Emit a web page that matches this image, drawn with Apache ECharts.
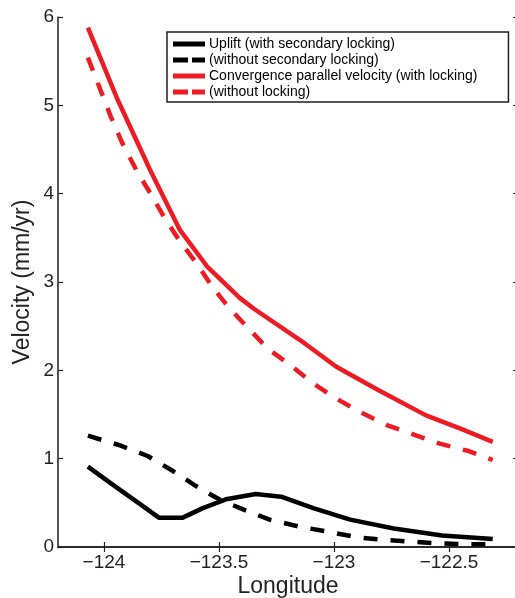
<!DOCTYPE html>
<html>
<head>
<meta charset="utf-8">
<script src="https://cdn.jsdelivr.net/npm/echarts@6/dist/echarts.min.js"></script>
<style>
html,body{margin:0;padding:0;background:#fff;}
#c{width:515px;height:598px;}
</style>
</head>
<body>
<div id="c"></div>
<script>
// Uplift with secondary locking (black solid)
const upliftLon = [-124.07, -123.97, -123.84, -123.76, -123.66, -123.57, -123.47, -123.34, -123.23, -123.09, -122.93, -122.74, -122.53, -122.31];
const upliftVel = [0.91, 0.72, 0.48, 0.33, 0.33, 0.44, 0.54, 0.60, 0.57, 0.44, 0.31, 0.21, 0.13, 0.09];
// Uplift without secondary locking (black dashed)
const upliftNoLon = [-124.07, -123.93, -123.81, -123.70, -123.60, -123.50, -123.39, -123.28, -123.15, -123.02, -122.90, -122.78, -122.66, -122.54, -122.42, -122.31];
const upliftNoVel = [1.26, 1.15, 1.03, 0.86, 0.69, 0.54, 0.42, 0.31, 0.23, 0.17, 0.11, 0.08, 0.06, 0.04, 0.03, 0.03];
// Convergence parallel velocity with locking (red solid)
const convLon = [-124.07, -123.94, -123.80, -123.67, -123.55, -123.41, -123.35, -123.13, -122.99, -122.81, -122.60, -122.45, -122.31];
const convVel = [5.88, 5.06, 4.27, 3.59, 3.17, 2.82, 2.70, 2.31, 2.04, 1.78, 1.49, 1.34, 1.19];
// Convergence parallel velocity without locking (red dashed)
const convNoLon = [-124.07, -123.97, -123.92, -123.86, -123.80, -123.74, -123.67, -123.60, -123.53, -123.46, -123.37, -123.29, -123.18, -123.09, -122.99, -122.88, -122.77, -122.65, -122.54, -122.42, -122.31];
const convNoVel = [5.54, 4.87, 4.57, 4.27, 4.01, 3.74, 3.46, 3.22, 2.95, 2.72, 2.47, 2.25, 2.04, 1.85, 1.68, 1.52, 1.38, 1.27, 1.17, 1.09, 0.985];

const xTicks = [-124, -123.5, -123, -122.5];
const yTicks = [0, 1, 2, 3, 4, 5, 6];
const seriesNames = ['Uplift (with secondary locking)', '(without secondary locking)', 'Convergence parallel velocity (with locking)', '(without locking)'];

const zip = (a, b) => a.map((v, i) => [v, b[i]]);
const RED = '#ed1c24';
const FONT = 'Liberation Sans';
const fmt = v => String(v).replace('-', '\u2212');
const ICON_SOLID = 'path://M0,0H32V5H0Z';
const ICON_DASH = 'path://M0,0H15V5H0Z M19,0H32V5H19Z';

const chart = echarts.init(document.getElementById('c'), null, {renderer: 'canvas'});
const axisLine = {show: true, lineStyle: {color: '#231f20', width: 1.5}};
const tick = (vals) => ({show: true, inside: true, length: 5, customValues: vals, lineStyle: {color: '#231f20', width: 1.2}});

chart.setOption({
  animation: false,
  backgroundColor: '#fff',
  grid: {left: 58, top: 17, width: 460, height: 530, containLabel: false, outerBoundsMode: 'none'},
  legend: {
    orient: 'vertical',
    left: 167, top: 32,
    padding: [5, 31, 3, 6],
    itemGap: 2,
    itemWidth: 32, itemHeight: 5,
    borderColor: '#231f20', borderWidth: 1.5,
    backgroundColor: '#fff',
    textStyle: {fontFamily: FONT, fontSize: 14, lineHeight: 14, color: '#000', padding: [0, 0, 0, -1]},
    data: [
      {name: seriesNames[0], icon: ICON_SOLID},
      {name: seriesNames[1], icon: ICON_DASH},
      {name: seriesNames[2], icon: ICON_SOLID},
      {name: seriesNames[3], icon: ICON_DASH}
    ]
  },
  xAxis: [{
    type: 'value', min: -124.2, max: -122.2,
    name: 'Longitude', nameLocation: 'middle', nameGap: 28, nameMoveOverlap: false,
    nameTextStyle: {fontFamily: FONT, fontSize: 23, color: '#231f20'},
    axisLine: axisLine,
    axisTick: tick(xTicks),
    axisLabel: {customValues: xTicks, formatter: fmt, fontFamily: FONT, fontSize: 19, color: '#231f20', margin: 6},
    splitLine: {show: false}
  }, {
    type: 'value', min: -124.2, max: -122.2, position: 'top',
    axisLine: axisLine,
    axisTick: tick(xTicks),
    axisLabel: {show: false},
    splitLine: {show: false}
  }],
  yAxis: [{
    type: 'value', min: 0, max: 6, interval: 1,
    name: 'Velocity (mm/yr)', nameLocation: 'middle', nameGap: 24, nameMoveOverlap: false,
    nameTextStyle: {fontFamily: FONT, fontSize: 23, color: '#231f20'},
    axisLine: axisLine,
    axisTick: tick(yTicks),
    axisLabel: {customValues: yTicks, fontFamily: FONT, fontSize: 19, color: '#231f20', margin: 4},
    splitLine: {show: false}
  }, {
    type: 'value', min: 0, max: 6, interval: 1, position: 'right',
    axisLine: axisLine,
    axisTick: tick(yTicks),
    axisLabel: {show: false},
    splitLine: {show: false}
  }],
  series: [
    {name: seriesNames[0], type: 'line', data: zip(upliftLon, upliftVel), showSymbol: false, symbol: 'none',
     lineStyle: {color: '#000', width: 4.5, type: 'solid'}, itemStyle: {color: '#000'}},
    {name: seriesNames[1], type: 'line', data: zip(upliftNoLon, upliftNoVel), showSymbol: false, symbol: 'none',
     lineStyle: {color: '#000', width: 4.5, type: [14, 13]}, itemStyle: {color: '#000'}},
    {name: seriesNames[2], type: 'line', data: zip(convLon, convVel), showSymbol: false, symbol: 'none',
     lineStyle: {color: RED, width: 4.5, type: 'solid'}, itemStyle: {color: RED}},
    {name: seriesNames[3], type: 'line', data: zip(convNoLon, convNoVel), showSymbol: false, symbol: 'none',
     lineStyle: {color: RED, width: 4.5, type: [14, 13]}, itemStyle: {color: RED}}
  ]
});
</script>
</body>
</html>
